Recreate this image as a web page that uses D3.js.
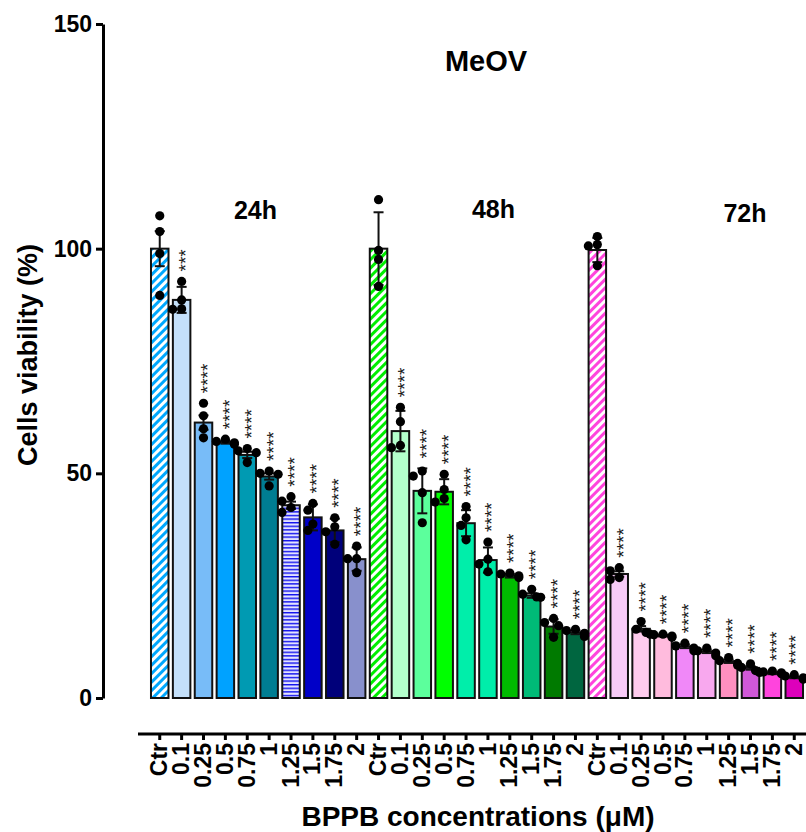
<!DOCTYPE html>
<html>
<head>
<meta charset="utf-8">
<script src="https://cdn.jsdelivr.net/npm/d3@7"></script>
<style>
  body { margin: 0; background: #fff; }
  text { font-family: Arial, "Liberation Sans", Helvetica, sans-serif; }
</style>
</head>
<body>
<script>
// ---------------- DATA ----------------
const concentrations = ["Ctr", "0.1", "0.25", "0.5", "0.75", "1", "1.25", "1.5", "1.75", "2"];
const groups = ["24h", "48h", "72h"];

const means24 = [100, 88.6, 61.3, 56.9, 54.1, 49.3, 42.9, 40.2, 37.3, 30.9];
const err24 = [3.9, 2.9, 1.6, 0.3, 0.7, 0.7, 0.8, 2.9, 2.6, 2.6];
const pts24 = [
  [107.3, 103.8, 98.9, 89.6],
  [92.7, 88.6, 86.6, 86.5],
  [65.6, 62.8, 59.9, 57.9],
  [57.6, 57.1, 56.8, 56.5],
  [55.5, 55.0, 54.6, 52.4],
  [50.5, 50.0, 49.8, 47.2],
  [44.8, 43.8, 42.4, 41.3],
  [43.3, 41.8, 38.7, 37.3],
  [40.1, 38.1, 37.0, 34.2],
  [33.8, 31.0, 31.0, 27.9]
];
const sig24 = ["", "***", "****", "****", "****", "****", "****", "****", "****", "****"];

const means48 = [100, 59.4, 46.1, 45.9, 38.9, 30.7, 27.2, 22.8, 15.9, 14.6];
const err48 = [8.1, 4.5, 5.0, 2.8, 2.9, 2.8, 0.4, 0.5, 1.6, 0.4];
const pts48 = [
  [110.9, 99.6, 97.6, 91.6],
  [64.7, 61.5, 56.2, 55.7],
  [50.5, 49.4, 45.7, 39.0],
  [49.8, 46.4, 44.4, 43.6],
  [42.6, 40.1, 38.4, 35.2],
  [34.7, 30.9, 29.8, 28.1],
  [27.8, 27.6, 27.2, 26.8],
  [24.2, 23.1, 22.5, 22.4],
  [17.7, 16.8, 16.1, 13.5],
  [15.3, 15.0, 14.4, 13.7]
];
const sig48 = ["", "****", "****", "****", "****", "****", "****", "****", "****", "****"];

const means72 = [99.7, 27.6, 15.4, 13.9, 11.5, 10.4, 8.2, 6.7, 5.5, 4.6];
const err72 = [2.7, 0.6, 0.6, 0.2, 0.4, 0.4, 0.4, 0.4, 0.2, 0.2];
const pts72 = [
  [102.7, 100.9, 100.6, 96.2],
  [29.0, 28.3, 26.8, 26.4],
  [17.0, 15.3, 14.6, 14.2],
  [14.2, 14.1, 13.8, 13.5],
  [12.2, 11.6, 11.1, 10.5],
  [11.1, 10.5, 10.0, 9.4],
  [9.0, 8.3, 7.7, 7.3],
  [7.6, 6.8, 6.1, 5.7],
  [6.0, 5.8, 5.6, 5.4],
  [5.2, 4.9, 4.5, 4.2]
];
const sig72 = ["", "****", "****", "****", "****", "****", "****", "****", "****", "****"];

const yTicks = [0, 50, 100, 150];

// ---------------- STYLES ----------------
const colors24 = ["url(#hatchBlue)", "#c4e0fa", "#78bcf8", "#00a2ff", "#009ab2", "#007d92", "url(#hstripeBlue)", "#0000c8", "#00007a", "#8890cc"];
const colors48 = ["url(#hatchGreen)", "#b4ffcc", "#5cff9c", "#00ff00", "#00eeaa", "#00eeaa", "#00bb00", "#00bb77", "#007a00", "#006640"];
const colors72 = ["url(#hatchPink)", "#f8ccf8", "#ffccee", "#ffbbdd", "#f088f8", "#f8a8ee", "#ff90c0", "#d058d8", "#ff44dd", "#dd00bb"];

const rows = [];
[[means24, err24, pts24, sig24, colors24],
 [means48, err48, pts48, sig48, colors48],
 [means72, err72, pts72, sig72, colors72]].forEach(([m, e, p, s, c], gi) => {
  concentrations.forEach((lab, ci) => {
    rows.push({ key: groups[gi] + "-" + lab, label: lab, mean: m[ci], err: e[ci], pts: p[ci], sig: s[ci], fill: c[ci] });
  });
});

// ---------------- CHART ----------------
const W = 806, H = 832;
const svg = d3.select("body").append("svg").attr("width", W).attr("height", H);

const defs = svg.append("defs");
function hatch(id, color) {
  const p = defs.append("pattern").attr("id", id).attr("patternUnits", "userSpaceOnUse")
    .attr("width", 6).attr("height", 6).attr("patternTransform", "rotate(45)");
  p.append("rect").attr("width", 6).attr("height", 6).attr("fill", "#fff");
  p.append("rect").attr("width", 3).attr("height", 6).attr("fill", color);
}
hatch("hatchBlue", "#00a8ff");
hatch("hatchGreen", "#00ee00");
hatch("hatchPink", "#ff44dd");
{
  const p = defs.append("pattern").attr("id", "hstripeBlue").attr("patternUnits", "userSpaceOnUse")
    .attr("width", 6).attr("height", 3.6);
  p.append("rect").attr("width", 6).attr("height", 3.6).attr("fill", "#e2e2ff");
  p.append("rect").attr("width", 6).attr("height", 1.4).attr("fill", "#1010ee");
}

const x = d3.scaleBand().domain(rows.map(d => d.key)).range([148.8, 805.2]).paddingInner(0.2).paddingOuter(0.1);
const y = d3.scaleLinear().domain([0, 150]).range([698, 24]);

// Bars
svg.append("g").selectAll("rect").data(rows).join("rect")
  .attr("x", d => x(d.key))
  .attr("width", x.bandwidth())
  .attr("y", d => y(d.mean))
  .attr("height", d => y(0) - y(d.mean))
  .attr("fill", d => d.fill)
  .attr("stroke", "#111")
  .attr("stroke-width", 2);

// Error bars
const eb = svg.append("g").attr("stroke", "#111").attr("stroke-width", 2).attr("fill", "none");
rows.forEach(d => {
  const cx = x(d.key) + x.bandwidth() / 2;
  eb.append("line").attr("x1", cx).attr("x2", cx).attr("y1", y(d.mean - d.err)).attr("y2", y(d.mean + d.err));
  eb.append("line").attr("x1", cx - 5).attr("x2", cx + 5).attr("y1", y(d.mean + d.err)).attr("y2", y(d.mean + d.err));
  eb.append("line").attr("x1", cx - 5).attr("x2", cx + 5).attr("y1", y(d.mean - d.err)).attr("y2", y(d.mean - d.err));
});

// Points (simple swarm so overlapping dots spread sideways)
const pg = svg.append("g").attr("fill", "#000");
rows.forEach(d => {
  const cx = x(d.key) + x.bandwidth() / 2;
  const placed = [];
  const offs = [0, -5, 5, -9, 9];
  d.pts.forEach(v => {
    const py = y(v);
    let chosen = 0;
    for (const o of offs) {
      if (placed.every(p => Math.hypot(p[0] - o, p[1] - py) >= 8)) { chosen = o; break; }
      chosen = o;
    }
    placed.push([chosen, py]);
    pg.append("circle").attr("cx", cx + chosen).attr("cy", py).attr("r", 4.6);
  });
});

// Significance stars (one vertical string per bar), kept inside the page
const sg = svg.append("g");
rows.forEach(d => {
  if (!d.sig) return;
  let cx = x(d.key) + x.bandwidth() / 2;
  const top = Math.max(d3.max(d.pts), d.mean + d.err);
  const ty = y(top) - 10;
  const t = sg.append("text")
    .attr("transform", `translate(${cx},${ty}) rotate(-90)`)
    .attr("dy", "0.55em")
    .attr("font-size", 19)
    .attr("fill", "#1a1a1a")
    .text(d.sig);
  const b = t.node().getBoundingClientRect();
  if (b.right > W - 0.5) {
    cx -= (b.right - (W - 0.5));
    t.attr("transform", `translate(${cx},${ty}) rotate(-90)`);
  }
});

// Y axis
const yAxis = svg.append("g").attr("transform", "translate(103,0)")
  .call(d3.axisLeft(y).tickValues(yTicks).tickSize(7).tickSizeOuter(0).tickPadding(4));
yAxis.select(".domain").attr("stroke-width", 3).attr("stroke", "#000");
yAxis.selectAll(".tick line").attr("stroke-width", 3).attr("stroke", "#000");
yAxis.selectAll(".tick text").attr("font-size", 23).attr("font-weight", "bold")
  .attr("font-family", "Arial, 'Liberation Sans', sans-serif").attr("fill", "#000");

// X axis
const xAxis = svg.append("g").attr("transform", "translate(0,734)")
  .call(d3.axisBottom(x).tickSize(6).tickFormat(k => rows.find(r => r.key === k).label));
xAxis.select(".domain").remove();
xAxis.append("line").attr("x1", 138).attr("x2", 806).attr("y1", 0).attr("y2", 0)
  .attr("stroke", "#000").attr("stroke-width", 3);
xAxis.selectAll(".tick line").attr("stroke-width", 3).attr("stroke", "#000");
xAxis.selectAll(".tick text")
  .attr("transform", "rotate(-90)")
  .attr("x", -9).attr("y", 0).attr("dy", "0.33em")
  .style("text-anchor", "end")
  .attr("font-size", 23).attr("font-weight", "bold")
  .attr("font-family", "Arial, 'Liberation Sans', sans-serif").attr("fill", "#000");

// Titles
svg.append("text").attr("x", 478).attr("y", 826).attr("text-anchor", "middle")
  .attr("font-size", 28).attr("font-weight", "bold").text("BPPB concentrations (\u03bcM)");
svg.append("text").attr("transform", "translate(37,355) rotate(-90)").attr("text-anchor", "middle")
  .attr("font-size", 27).attr("font-weight", "bold").text("Cells viability (%)");
svg.append("text").attr("x", 486).attr("y", 71).attr("text-anchor", "middle")
  .attr("font-size", 29).attr("font-weight", "bold").text("MeOV");

const groupLabelX = [255.5, 493.5, 745];
const groupLabelY = [219, 218, 222];
groups.forEach((g, i) => {
  svg.append("text").attr("x", groupLabelX[i]).attr("y", groupLabelY[i]).attr("text-anchor", "middle")
    .attr("font-size", 25).attr("font-weight", "bold").text(g);
});
</script>
</body>
</html>
